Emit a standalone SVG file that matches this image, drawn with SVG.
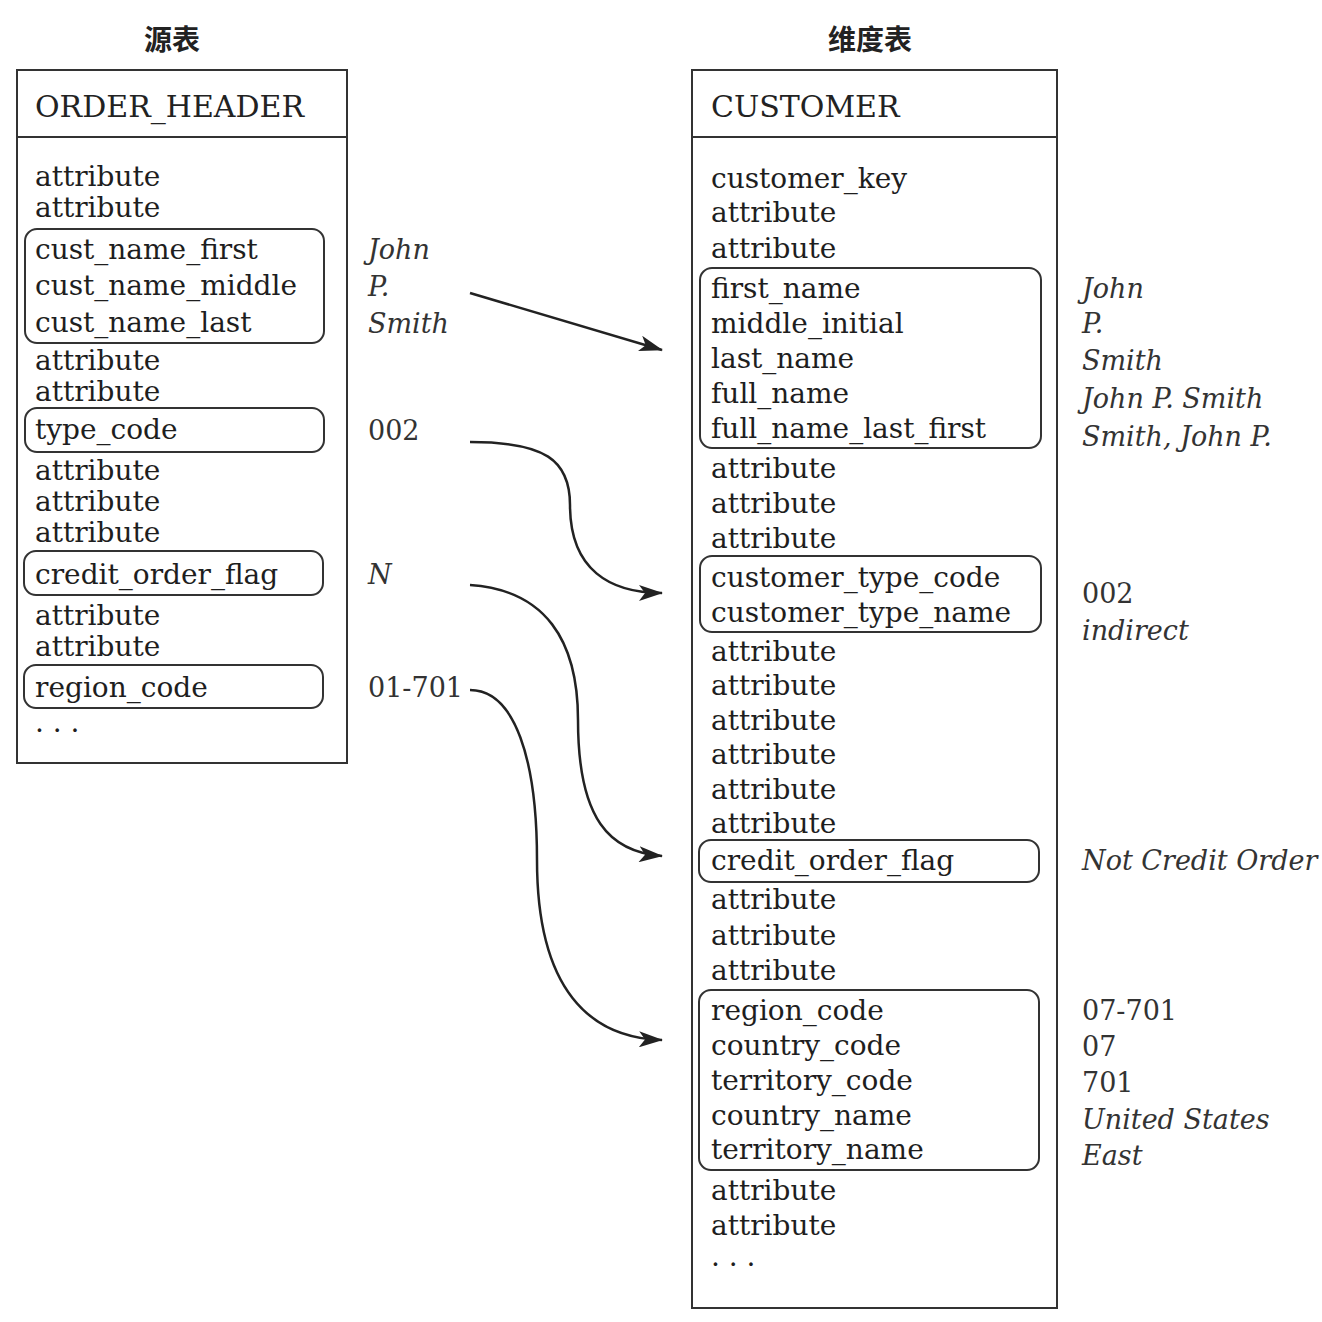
<svg xmlns="http://www.w3.org/2000/svg" width="1322" height="1322" viewBox="0 0 1322 1322">
<style>
.t{font-family:"DejaVu Serif","Liberation Serif",serif;font-size:28px;fill:#1e1e1e}
.h{font-family:"DejaVu Serif","Liberation Serif",serif;font-size:30px;fill:#222}
.v{font-family:"DejaVu Serif","Liberation Serif",serif;font-size:27px;fill:#333}
.vi{font-family:"DejaVu Serif","Liberation Serif",serif;font-size:27px;font-style:italic;fill:#333}
.cjk{font-family:"Noto Sans CJK SC",sans-serif;font-size:28px;font-weight:700;fill:#222;text-anchor:middle}
.box{fill:none;stroke:#333;stroke-width:2}
.grp{fill:none;stroke:#333;stroke-width:2}
.con{fill:none;stroke:#222;stroke-width:2.5}
</style>
<defs>
<marker id="ah2" markerWidth="24" markerHeight="16" refX="23" refY="8" orient="auto" markerUnits="userSpaceOnUse" viewBox="0 0 24 16">
<path d="M0,0 L24,8 L0,16 L6,8 Z" fill="#222"/>
</marker>
</defs>
<rect width="1322" height="1322" fill="#fff"/>
<text class="cjk" x="172" y="50">源表</text>
<text class="cjk" x="870" y="50">维度表</text>

<g id="order_header">
<rect class="box" x="17" y="70" width="330" height="693"/>
<line class="box" x1="17" y1="137" x2="347" y2="137"/>
<text class="h" x="35" y="117">ORDER_HEADER</text>
<text class="t" x="35" y="186">attribute</text>
<text class="t" x="35" y="217">attribute</text>
<rect class="grp" x="25" y="229" width="299" height="114" rx="12"/>
<text class="t" x="35" y="259">cust_name_first</text>
<text class="t" x="35" y="295">cust_name_middle</text>
<text class="t" x="35" y="332">cust_name_last</text>
<text class="t" x="35" y="370">attribute</text>
<text class="t" x="35" y="401">attribute</text>
<rect class="grp" x="25" y="408" width="299" height="44" rx="12"/>
<text class="t" x="35" y="439">type_code</text>
<text class="t" x="35" y="480">attribute</text>
<text class="t" x="35" y="511">attribute</text>
<text class="t" x="35" y="542">attribute</text>
<rect class="grp" x="24" y="551" width="299" height="44" rx="12"/>
<text class="t" x="35" y="584">credit_order_flag</text>
<text class="t" x="35" y="625">attribute</text>
<text class="t" x="35" y="656">attribute</text>
<rect class="grp" x="24" y="665" width="299" height="43" rx="12"/>
<text class="t" x="35" y="697">region_code</text>
<text class="t" x="35" y="732">. . .</text>
</g>

<g id="source_values">
<text class="vi" x="368" y="259">John</text>
<text class="vi" x="368" y="296">P.</text>
<text class="vi" x="368" y="333">Smith</text>
<text class="v" x="368" y="440">002</text>
<text class="vi" x="368" y="584">N</text>
<text class="v" x="368" y="697">01-701</text>
</g>

<g id="customer">
<rect class="box" x="692" y="70" width="365" height="1238"/>
<line class="box" x1="692" y1="137" x2="1057" y2="137"/>
<text class="h" x="711" y="117">CUSTOMER</text>
<text class="t" x="711" y="188">customer_key</text>
<text class="t" x="711" y="222">attribute</text>
<text class="t" x="711" y="258">attribute</text>
<rect class="grp" x="700" y="268" width="341" height="180" rx="12"/>
<text class="t" x="711" y="298">first_name</text>
<text class="t" x="711" y="333">middle_initial</text>
<text class="t" x="711" y="368">last_name</text>
<text class="t" x="711" y="403">full_name</text>
<text class="t" x="711" y="438">full_name_last_first</text>
<text class="t" x="711" y="478">attribute</text>
<text class="t" x="711" y="513">attribute</text>
<text class="t" x="711" y="548">attribute</text>
<rect class="grp" x="700" y="556" width="341" height="76" rx="12"/>
<text class="t" x="711" y="587">customer_type_code</text>
<text class="t" x="711" y="622">customer_type_name</text>
<text class="t" x="711" y="661">attribute</text>
<text class="t" x="711" y="695">attribute</text>
<text class="t" x="711" y="730">attribute</text>
<text class="t" x="711" y="764">attribute</text>
<text class="t" x="711" y="799">attribute</text>
<text class="t" x="711" y="833">attribute</text>
<rect class="grp" x="699" y="840" width="340" height="42" rx="12"/>
<text class="t" x="711" y="870">credit_order_flag</text>
<text class="t" x="711" y="909">attribute</text>
<text class="t" x="711" y="945">attribute</text>
<text class="t" x="711" y="980">attribute</text>
<rect class="grp" x="699" y="990" width="340" height="180" rx="12"/>
<text class="t" x="711" y="1020">region_code</text>
<text class="t" x="711" y="1055">country_code</text>
<text class="t" x="711" y="1090">territory_code</text>
<text class="t" x="711" y="1125">country_name</text>
<text class="t" x="711" y="1159">territory_name</text>
<text class="t" x="711" y="1200">attribute</text>
<text class="t" x="711" y="1235">attribute</text>
<text class="t" x="711" y="1266">. . .</text>
</g>

<g id="target_values">
<text class="vi" x="1082" y="298">John</text>
<text class="vi" x="1082" y="333">P.</text>
<text class="vi" x="1082" y="370">Smith</text>
<text class="vi" x="1082" y="408">John P. Smith</text>
<text class="vi" x="1082" y="446">Smith, John P.</text>
<text class="v" x="1082" y="603">002</text>
<text class="vi" x="1082" y="640">indirect</text>
<text class="vi" x="1082" y="870">Not Credit Order</text>
<text class="v" x="1082" y="1020">07-701</text>
<text class="v" x="1082" y="1056">07</text>
<text class="v" x="1082" y="1092">701</text>
<text class="vi" x="1082" y="1129">United States</text>
<text class="vi" x="1082" y="1165">East</text>
</g>

<g id="connectors">
<path class="con" d="M470,293 L662,350" marker-end="url(#ah2)"/>
<path class="con" d="M470,442 C545,442 570,460 570,505 C570,570 610,593 662,593" marker-end="url(#ah2)"/>
<path class="con" d="M470,585 C545,590 578,640 578,720 C578,820 610,852 662,856" marker-end="url(#ah2)"/>
<path class="con" d="M470,690 C515,690 537,760 537,860 C537,990 590,1038 662,1040" marker-end="url(#ah2)"/>
</g>
</svg>
